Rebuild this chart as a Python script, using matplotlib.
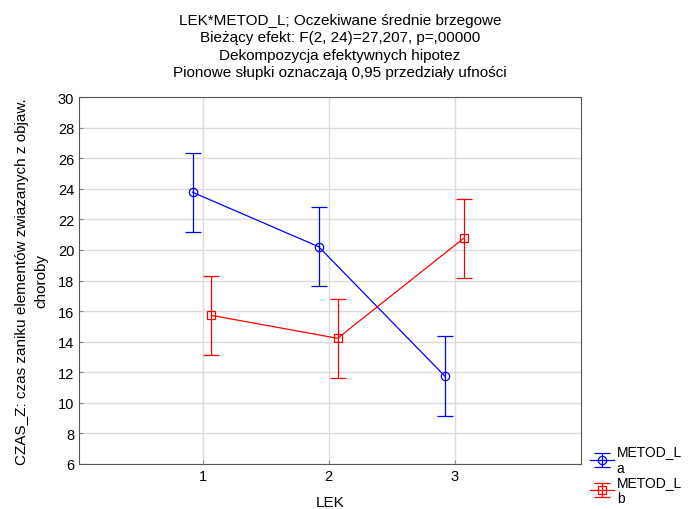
import numpy as np
import matplotlib.pyplot as plt

plt.rcParams['font.family'] = ['Liberation Sans', 'DejaVu Sans']
plt.rcParams['font.size'] = 10.5

# Data
lek = np.array([1, 2, 3])
metod_a = [23.77, 20.21, 11.75]
metod_b = [15.72, 14.22, 20.76]
ci_a = [2.6, 2.6, 2.6]
ci_b = [2.6, 2.6, 2.6]
tick_labels = ['1', '2', '3']

fig = plt.figure(figsize=(6.89, 5.10), dpi=100)
ax = fig.add_axes([79 / 689, 45 / 510, 502 / 689, 367 / 510])

ax.errorbar(lek - 0.08, metod_a, yerr=ci_a, color='#0000ff', lw=0.9,
            marker='o', ms=6, mfc='none', mew=0.9, capsize=6, capthick=0.9,
            elinewidth=0.9, label='METOD_L\na')
ax.errorbar(lek + 0.07, metod_b, yerr=ci_b, color='#ff0000', lw=0.9,
            marker='s', ms=6, mfc='none', mew=0.9, capsize=6, capthick=0.9,
            elinewidth=0.9, label='METOD_L\nb')

ax.set_xlim(0.02, 4.0)
ax.set_ylim(6, 30)
ax.set_xticks(lek)
ax.set_xticklabels(tick_labels)
ax.set_yticks(np.arange(6, 31, 2))
ax.grid(True, color='#dcdcdc', lw=1)
ax.set_axisbelow(True)
ax.tick_params(direction='in', length=3, color='#888888', labelsize=10.5)
for s in ax.spines.values():
    s.set_color('#555555')
    s.set_linewidth(0.8)

ax.set_xlabel('LEK', labelpad=9, fontsize=11)
ax.set_ylabel('CZAS_Z: czas zaniku elementów zwiazanych z objaw.\nchoroby',
              linespacing=1.45, fontsize=11, labelpad=7)

fig.text(340 / 689, 1 - 14 / 510,
         'LEK*METOD_L; Oczekiwane średnie brzegowe\n'
         'Bieżący efekt: F(2, 24)=27,207, p=,00000\n'
         'Dekompozycja efektywnych hipotez\n'
         'Pionowe słupki oznaczają 0,95 przedziały ufności',
         ha='center', va='top', linespacing=1.3, fontsize=11)

fig.legend(loc='upper left', bbox_to_anchor=(582 / 689, 1 - 437 / 510),
           frameon=False, handlelength=1.7, labelspacing=0.0,
           borderpad=0.1, handletextpad=0.2, fontsize=10)

fig.savefig('out.png', dpi=100)
